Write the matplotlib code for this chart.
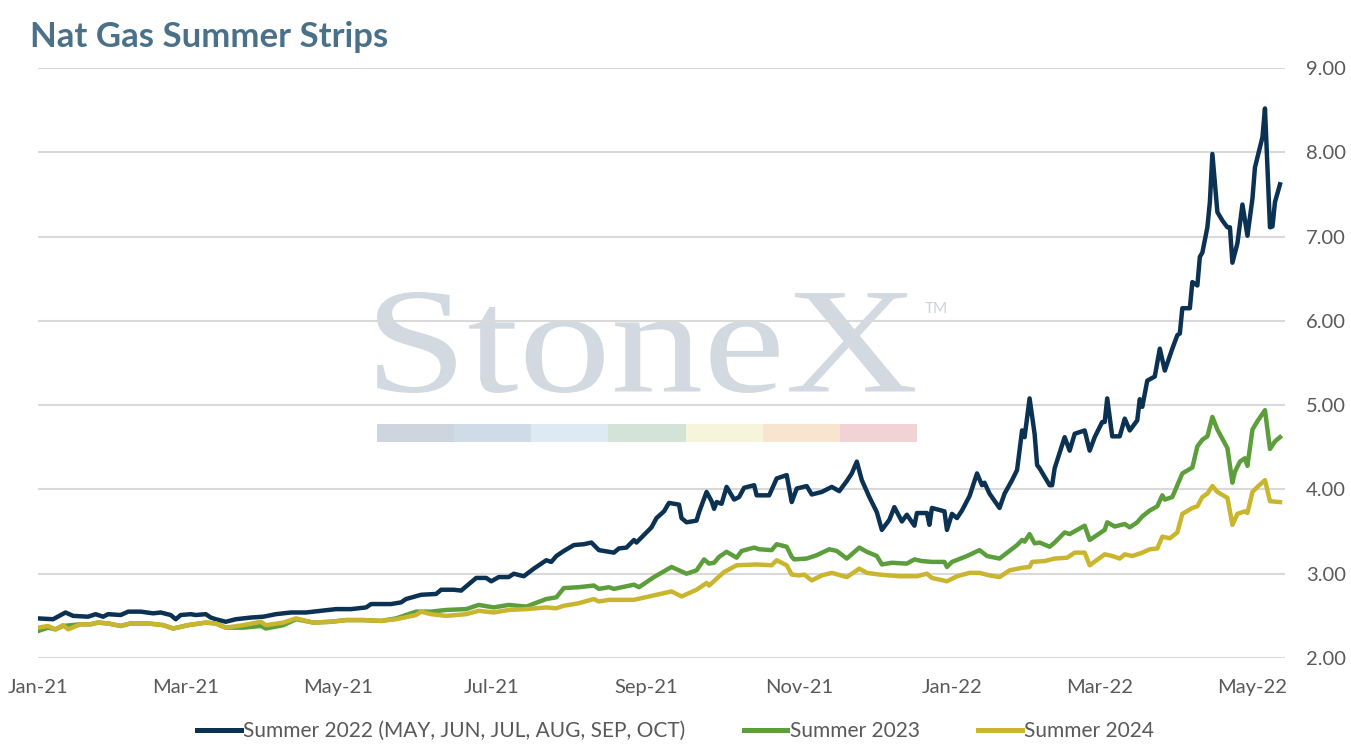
import matplotlib
matplotlib.use("Agg")
import matplotlib.pyplot as plt
import matplotlib.dates as mdates
import pandas as pd
from matplotlib.lines import Line2D
from matplotlib.patches import PathPatch, Rectangle
from matplotlib.textpath import TextPath
from matplotlib.font_manager import FontProperties
from matplotlib.transforms import Affine2D

# Summer 2022 strip (MAY-OCT)
s22_dates = [
    "2021-01-01", "2021-01-07", "2021-01-12", "2021-01-15", "2021-01-21", "2021-01-24", "2021-01-27",
    "2021-01-29", "2021-02-03", "2021-02-06", "2021-02-11", "2021-02-16", "2021-02-19", "2021-02-23",
    "2021-02-25", "2021-02-27", "2021-03-03", "2021-03-05", "2021-03-09", "2021-03-11", "2021-03-13",
    "2021-03-17", "2021-03-21", "2021-03-27", "2021-04-01", "2021-04-06", "2021-04-12", "2021-04-18",
    "2021-04-24", "2021-04-30", "2021-05-06", "2021-05-12", "2021-05-14", "2021-05-22", "2021-05-26",
    "2021-05-28", "2021-06-03", "2021-06-09", "2021-06-11", "2021-06-16", "2021-06-19", "2021-06-21",
    "2021-06-25", "2021-06-29", "2021-07-01", "2021-07-04", "2021-07-08", "2021-07-10", "2021-07-14",
    "2021-07-18", "2021-07-23", "2021-07-25", "2021-07-27", "2021-07-30", "2021-08-03", "2021-08-07",
    "2021-08-10", "2021-08-13", "2021-08-19", "2021-08-21", "2021-08-24", "2021-08-27", "2021-08-28",
    "2021-08-31", "2021-09-03", "2021-09-05", "2021-09-08", "2021-09-10", "2021-09-14", "2021-09-15",
    "2021-09-17", "2021-09-21", "2021-09-22", "2021-09-25", "2021-09-27", "2021-09-28", "2021-09-29",
    "2021-10-01", "2021-10-03", "2021-10-06", "2021-10-08", "2021-10-10", "2021-10-14", "2021-10-15",
    "2021-10-20", "2021-10-23", "2021-10-27", "2021-10-29", "2021-10-31", "2021-11-04", "2021-11-06",
    "2021-11-10", "2021-11-14", "2021-11-17", "2021-11-20", "2021-11-22", "2021-11-24", "2021-11-26",
    "2021-11-29", "2021-12-01", "2021-12-02", "2021-12-04", "2021-12-06", "2021-12-07", "2021-12-09",
    "2021-12-12", "2021-12-14", "2021-12-17", "2021-12-18", "2021-12-22", "2021-12-23", "2021-12-24",
    "2021-12-29", "2021-12-30", "2022-01-01", "2022-01-03", "2022-01-05", "2022-01-08", "2022-01-11",
    "2022-01-13", "2022-01-14", "2022-01-16", "2022-01-20", "2022-01-22", "2022-01-25", "2022-01-27",
    "2022-01-29", "2022-01-30", "2022-02-01", "2022-02-03", "2022-02-04", "2022-02-05", "2022-02-09",
    "2022-02-10", "2022-02-11", "2022-02-15", "2022-02-17", "2022-02-19", "2022-02-23", "2022-02-25",
    "2022-02-27", "2022-03-02", "2022-03-03", "2022-03-04", "2022-03-06", "2022-03-09", "2022-03-11",
    "2022-03-13", "2022-03-16", "2022-03-17", "2022-03-18", "2022-03-20", "2022-03-23", "2022-03-25",
    "2022-03-27", "2022-03-30", "2022-04-01", "2022-04-02", "2022-04-03", "2022-04-06", "2022-04-07",
    "2022-04-09", "2022-04-10", "2022-04-11", "2022-04-13", "2022-04-14", "2022-04-15", "2022-04-17",
    "2022-04-19", "2022-04-21", "2022-04-22", "2022-04-23", "2022-04-25", "2022-04-27", "2022-04-29",
    "2022-05-01", "2022-05-02", "2022-05-05", "2022-05-06", "2022-05-08", "2022-05-09", "2022-05-10",
    "2022-05-12",
]
s22_values = [
    2.47, 2.46, 2.54, 2.50, 2.49, 2.52, 2.49,
    2.52, 2.51, 2.55, 2.55, 2.53, 2.54, 2.51,
    2.46, 2.51, 2.52, 2.51, 2.52, 2.48, 2.46,
    2.43, 2.46, 2.48, 2.49, 2.52, 2.54, 2.54,
    2.56, 2.58, 2.58, 2.60, 2.64, 2.64, 2.66,
    2.70, 2.75, 2.76, 2.81, 2.81, 2.80, 2.85,
    2.95, 2.95, 2.91, 2.96, 2.96, 3.00, 2.97,
    3.06, 3.16, 3.14, 3.21, 3.27, 3.34, 3.35,
    3.37, 3.28, 3.25, 3.30, 3.31, 3.40, 3.37,
    3.46, 3.55, 3.66, 3.74, 3.84, 3.82, 3.66,
    3.61, 3.63, 3.73, 3.97, 3.86, 3.77, 3.85,
    3.83, 4.03, 3.88, 3.91, 4.02, 4.05, 3.93,
    3.93, 4.13, 4.17, 3.85, 4.01, 4.04, 3.94,
    3.97, 4.03, 3.98, 4.10, 4.19, 4.33, 4.11,
    3.91, 3.79, 3.73, 3.52, 3.60, 3.64, 3.79,
    3.62, 3.70, 3.57, 3.72, 3.72, 3.58, 3.78,
    3.74, 3.52, 3.71, 3.66, 3.75, 3.92, 4.19,
    4.05, 4.08, 3.95, 3.78, 3.95, 4.11, 4.23,
    4.70, 4.62, 5.08, 4.66, 4.29, 4.25, 4.05,
    4.05, 4.25, 4.62, 4.46, 4.66, 4.70, 4.46,
    4.62, 4.80, 4.80, 5.08, 4.63, 4.63, 4.84,
    4.70, 4.82, 5.07, 4.98, 5.29, 5.34, 5.67,
    5.41, 5.67, 5.83, 5.85, 6.15, 6.15, 6.46,
    6.42, 6.76, 6.81, 7.11, 7.41, 7.98, 7.29,
    7.19, 7.11, 7.11, 6.69, 6.92, 7.38, 7.01,
    7.45, 7.82, 8.18, 8.52, 7.11, 7.12, 7.41,
    7.62,
]

# Summer 2023 strip
s23_dates = [
    "2021-01-01", "2021-01-05", "2021-01-08", "2021-01-11", "2021-01-18", "2021-01-22", "2021-01-25",
    "2021-01-29", "2021-02-03", "2021-02-07", "2021-02-14", "2021-02-20", "2021-02-24", "2021-03-02",
    "2021-03-09", "2021-03-13", "2021-03-17", "2021-03-24", "2021-03-31", "2021-04-02", "2021-04-09",
    "2021-04-14", "2021-04-21", "2021-04-28", "2021-05-04", "2021-05-11", "2021-05-18", "2021-05-24",
    "2021-06-01", "2021-06-07", "2021-06-13", "2021-06-21", "2021-06-26", "2021-07-02", "2021-07-08",
    "2021-07-15", "2021-07-23", "2021-07-27", "2021-07-30", "2021-08-05", "2021-08-11", "2021-08-13",
    "2021-08-17", "2021-08-19", "2021-08-27", "2021-08-29", "2021-09-04", "2021-09-11", "2021-09-14",
    "2021-09-17", "2021-09-21", "2021-09-24", "2021-09-26", "2021-09-28", "2021-09-30", "2021-10-03",
    "2021-10-07", "2021-10-09", "2021-10-14", "2021-10-16", "2021-10-21", "2021-10-23", "2021-10-27",
    "2021-10-29", "2021-10-30", "2021-11-04", "2021-11-08", "2021-11-13", "2021-11-16", "2021-11-20",
    "2021-11-25", "2021-11-28", "2021-12-02", "2021-12-04", "2021-12-08", "2021-12-14", "2021-12-17",
    "2021-12-20", "2021-12-24", "2021-12-29", "2021-12-30", "2022-01-01", "2022-01-07", "2022-01-12",
    "2022-01-15", "2022-01-20", "2022-01-27", "2022-01-29", "2022-01-30", "2022-02-01", "2022-02-03",
    "2022-02-05", "2022-02-09", "2022-02-11", "2022-02-15", "2022-02-17", "2022-02-23", "2022-02-25",
    "2022-03-03", "2022-03-04", "2022-03-07", "2022-03-11", "2022-03-13", "2022-03-16", "2022-03-18",
    "2022-03-21", "2022-03-24", "2022-03-26", "2022-03-27", "2022-03-30", "2022-04-03", "2022-04-07",
    "2022-04-09", "2022-04-11", "2022-04-13", "2022-04-15", "2022-04-17", "2022-04-21", "2022-04-23",
    "2022-04-24", "2022-04-26", "2022-04-28", "2022-04-29", "2022-05-01", "2022-05-03", "2022-05-06",
    "2022-05-08", "2022-05-10", "2022-05-12",
]
s23_values = [
    2.32, 2.36, 2.34, 2.38, 2.40, 2.40, 2.42,
    2.41, 2.38, 2.41, 2.41, 2.39, 2.35, 2.39,
    2.42, 2.41, 2.36, 2.36, 2.38, 2.35, 2.39,
    2.46, 2.42, 2.43, 2.45, 2.45, 2.44, 2.47,
    2.55, 2.55, 2.57, 2.58, 2.63, 2.60, 2.63,
    2.61, 2.70, 2.72, 2.83, 2.84, 2.86, 2.82,
    2.84, 2.82, 2.87, 2.84, 2.96, 3.08, 3.04,
    3.00, 3.04, 3.17, 3.12, 3.13, 3.20, 3.26,
    3.19, 3.27, 3.31, 3.29, 3.28, 3.35, 3.32,
    3.20, 3.17, 3.18, 3.22, 3.29, 3.27, 3.18,
    3.31, 3.26, 3.21, 3.11, 3.13, 3.12, 3.17,
    3.15, 3.14, 3.14, 3.08, 3.14, 3.21, 3.28,
    3.21, 3.18, 3.34, 3.40, 3.38, 3.47, 3.36,
    3.37, 3.32, 3.37, 3.49, 3.47, 3.57, 3.40,
    3.52, 3.61, 3.56, 3.59, 3.55, 3.61, 3.68,
    3.75, 3.80, 3.93, 3.88, 3.91, 4.19, 4.26,
    4.51, 4.59, 4.63, 4.86, 4.71, 4.49, 4.08,
    4.21, 4.33, 4.37, 4.28, 4.71, 4.81, 4.94,
    4.48, 4.57, 4.62,
]

# Summer 2024 strip
s24_dates = [
    "2021-01-01", "2021-01-05", "2021-01-08", "2021-01-11", "2021-01-13", "2021-01-18", "2021-01-22",
    "2021-01-25", "2021-01-29", "2021-02-03", "2021-02-07", "2021-02-14", "2021-02-20", "2021-02-24",
    "2021-03-02", "2021-03-09", "2021-03-13", "2021-03-17", "2021-03-24", "2021-03-31", "2021-04-02",
    "2021-04-09", "2021-04-14", "2021-04-21", "2021-04-28", "2021-05-04", "2021-05-11", "2021-05-18",
    "2021-05-24", "2021-06-01", "2021-06-03", "2021-06-07", "2021-06-13", "2021-06-21", "2021-06-26",
    "2021-07-02", "2021-07-08", "2021-07-15", "2021-07-23", "2021-07-27", "2021-07-30", "2021-08-05",
    "2021-08-11", "2021-08-13", "2021-08-17", "2021-08-27", "2021-09-02", "2021-09-11", "2021-09-15",
    "2021-09-21", "2021-09-25", "2021-09-26", "2021-10-02", "2021-10-07", "2021-10-15", "2021-10-21",
    "2021-10-23", "2021-10-27", "2021-10-29", "2021-11-01", "2021-11-03", "2021-11-06", "2021-11-10",
    "2021-11-14", "2021-11-20", "2021-11-25", "2021-11-28", "2021-12-03", "2021-12-07", "2021-12-11",
    "2021-12-18", "2021-12-22", "2021-12-24", "2021-12-30", "2022-01-03", "2022-01-08", "2022-01-12",
    "2022-01-16", "2022-01-20", "2022-01-24", "2022-01-29", "2022-02-01", "2022-02-02", "2022-02-07",
    "2022-02-11", "2022-02-16", "2022-02-19", "2022-02-23", "2022-02-25", "2022-03-03", "2022-03-06",
    "2022-03-09", "2022-03-11", "2022-03-14", "2022-03-18", "2022-03-21", "2022-03-24", "2022-03-26",
    "2022-03-29", "2022-04-01", "2022-04-03", "2022-04-07", "2022-04-09", "2022-04-11", "2022-04-13",
    "2022-04-15", "2022-04-17", "2022-04-21", "2022-04-23", "2022-04-25", "2022-04-28", "2022-04-29",
    "2022-05-01", "2022-05-03", "2022-05-06", "2022-05-08", "2022-05-12",
]
s24_values = [
    2.36, 2.38, 2.34, 2.39, 2.34, 2.40, 2.40,
    2.42, 2.41, 2.38, 2.41, 2.41, 2.39, 2.35,
    2.39, 2.42, 2.41, 2.36, 2.39, 2.43, 2.39,
    2.42, 2.47, 2.42, 2.43, 2.45, 2.45, 2.44,
    2.46, 2.51, 2.55, 2.52, 2.50, 2.52, 2.56,
    2.54, 2.57, 2.58, 2.60, 2.59, 2.62, 2.65,
    2.70, 2.67, 2.69, 2.69, 2.73, 2.79, 2.73,
    2.81, 2.89, 2.86, 3.02, 3.10, 3.11, 3.10,
    3.16, 3.10, 2.99, 2.98, 2.99, 2.92, 2.98,
    3.01, 2.96, 3.06, 3.01, 2.99, 2.98, 2.97,
    2.97, 3.00, 2.95, 2.91, 2.97, 3.01, 3.01,
    2.98, 2.96, 3.04, 3.07, 3.08, 3.14, 3.15,
    3.18, 3.19, 3.25, 3.25, 3.10, 3.23, 3.21,
    3.18, 3.23, 3.21, 3.25, 3.29, 3.30, 3.44,
    3.42, 3.49, 3.71, 3.78, 3.80, 3.91, 3.95,
    4.04, 3.97, 3.90, 3.58, 3.71, 3.74, 3.72,
    3.97, 4.03, 4.11, 3.86, 3.85,
]

series_labels = ["Summer 2022 (MAY, JUN, JUL, AUG, SEP, OCT)", "Summer 2023", "Summer 2024"]
series_colors = ["#0b3153", "#5b9e3b", "#c9b52e"]
y_ticks = [2, 3, 4, 5, 6, 7, 8, 9]
stripe_colors = ["#cfd5de", "#cfdbe7", "#ddeaf3", "#d3e3d8", "#f6f5dc", "#f8e5cf", "#f1d3d5"]

FONT = "Lato"
GREY = "#595959"
W, H = 1351, 750

fig = plt.figure(figsize=(W / 100, H / 100), dpi=100)
ax = fig.add_axes([38 / W, 1 - 658 / H, (1285 - 38) / W, (658 - 68) / H])
ax.set_facecolor("none")

# watermark logo, behind the grid
tp = TextPath((0, 0), "StoneX", size=100, prop=FontProperties(family="Liberation Serif"))
ext = tp.get_extents()
x0, x1, y0, y1 = 377 / W, 915 / W, 1 - 393 / H, 1 - 292 / H
tr = (Affine2D().translate(-ext.x0, -ext.y0)
      .scale((x1 - x0) / ext.width, (y1 - y0) / ext.height)
      .translate(x0, y0) + fig.transFigure)
logo = PathPatch(tp, facecolor="#d3d9e1", edgecolor="none", transform=tr, zorder=0.1)
ax.add_artist(logo)
fig.text(925 / W, 1 - 313 / H, "TM", fontsize=11, color="#cdd3db", family=FONT)
sw = (917 - 377) / 7
for i, c in enumerate(stripe_colors):
    ax.add_artist(Rectangle(((377 + i * sw) / W, 1 - 442 / H), sw / W, 18 / H,
                            transform=fig.transFigure, facecolor=c, edgecolor="none", zorder=0.1))

all_dates = [s22_dates, s23_dates, s24_dates]
all_values = [s22_values, s23_values, s24_values]
for d, v, lab, col in zip(all_dates, all_values, series_labels, series_colors):
    ax.plot(pd.to_datetime(d), v, color=col, lw=3.2, label=lab, solid_joinstyle="round", zorder=2)

ax.set_xlim(pd.Timestamp("2021-01-01"), pd.Timestamp("2022-05-14"))
ax.set_ylim(2, 9)
ax.set_yticks(y_ticks)
ax.yaxis.tick_right()
ax.yaxis.set_major_formatter(plt.FuncFormatter(lambda v, p: f"{v:.2f}"))
ax.xaxis.set_major_locator(mdates.MonthLocator(bymonth=[1, 3, 5, 7, 9, 11]))
ax.xaxis.set_major_formatter(mdates.DateFormatter("%b-%y"))
ax.tick_params(axis="both", length=0, labelsize=14.5, labelcolor=GREY)
ax.tick_params(axis="x", pad=15)
ax.tick_params(axis="y", pad=15)
for lbl in ax.get_xticklabels() + ax.get_yticklabels():
    lbl.set_family(FONT)
ax.grid(axis="y", color="#d9d9d9", lw=1.5)
ax.set_axisbelow(True)
for s in ax.spines.values():
    s.set_visible(False)

fig.text(30 / W, 1 - 47 / H, "Nat Gas Summer Strips", fontsize=25, fontweight="bold",
         color="#4b7189", family=FONT, va="baseline")

handles = [Line2D([], [], color=c, lw=3.6) for c in series_colors]
fig.legend(handles, series_labels, loc="center", bbox_to_anchor=(0.5, 1 - 731 / H), ncol=3,
           frameon=False, handlelength=2.1, handletextpad=0.1, columnspacing=2.8,
           prop={"family": FONT, "size": 15}, labelcolor=GREY)

fig.savefig("out.png", dpi=100)
